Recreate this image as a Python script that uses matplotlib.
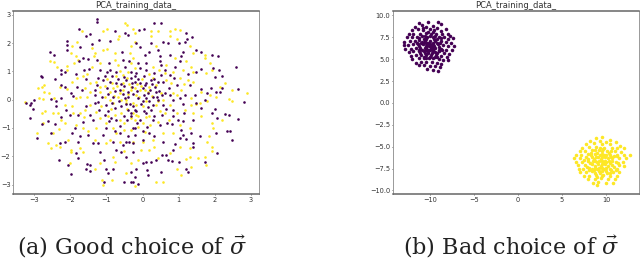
import numpy as np
import matplotlib
matplotlib.use("Agg")
import matplotlib.pyplot as plt

plt.rcParams['mathtext.fontset'] = 'dejavuserif'

good_purple = [
(-1.25,2.83),(-1.25,2.73),(-1.76,2.5),(-1.56,2.26),(-1.45,2.32),(-.75,2.41),(-.49,2.35),(-.4,2.3),(-2.08,2.06),(-2.08,1.94),
(-2.08,1.76),(-2.56,1.67),(-2.46,1.59),(-1.72,1.85),(-1.4,1.96),(-1.19,2.09),(-.9,2.06),(-.58,1.68),(-1.76,1.38),(-1.65,1.47),
(-1.52,1.43),(-1.26,1.41),(-.54,1.41),(-.37,1.38),(-2.26,1.05),(-2.24,.91),(-2.13,.96),(-2.81,.84),(-2.79,.79),(-2.43,.72),
(-1.85,.91),(-1.63,1.05),(-1.17,1.05),(-.99,.99),(-.9,1.05),(-.72,.99),(-1.22,.76),(-1.08,.7),(-.9,.64),(-.72,.58),
(-.45,.7),(-.31,.76),(-2.26,.52),(-2.13,.44),(-1.99,.22),(-1.81,.46),(-1.67,.34),(-1.26,.52),(-.99,.4),(-.63,.34),
(-.4,.28),(-3.22,-.13),(-3.08,-.13),(-2.99,-.01),(-2.54,.01),(-2.26,.05),(-1.31,.17),(-1.13,.11),(-.81,.11),(-.49,.05),
(-1.22,-.07),(.33,2.69),(.52,2.69),(-.1,2.45),(.03,2.5),(1.21,2.35),(1.37,2.21),(1.23,2.14),(1.17,2.02),(1.01,2.0),
(.7,2.0),(.24,2.0),(-.18,2.0),(-.08,1.86),(.56,2.02),(1.12,1.7),(1.49,1.76),(1.63,1.7),(1.91,1.59),(2.09,1.53),
(1.07,1.53),(1.03,1.35),(.75,1.59),(.43,1.76),(.19,1.67),(.06,1.59),(.47,1.53),(-.13,1.29),(.1,1.29),(.47,1.35),
(.52,1.23),(.61,1.05),(.1,1.05),(-.19,.93),(-.31,.96),(2.58,1.17),(1.63,1.08),(1.49,.99),(1.95,1.11),(2.12,1.05),
(2.0,.79),(2.21,.84),(.89,1.17),(.75,.88),(.52,.88),(.33,.72),(.24,.7),(.06,.52),(-.08,.58),(-.22,.64),
(.56,.64),(.94,.52),(1.31,.52),(1.63,.37),(1.89,.4),(2.19,.4),(2.14,.28),(2.03,.28),(2.63,.37),(2.81,-.08),
(1.77,.22),(1.44,.17),(.61,.22),(.75,.17),(.43,-.01),(.29,.11),(.1,.05),(-.13,.05),(.84,-.01),(1.03,.05),
(1.72,-.01),(1.17,.17),(-3.11,-.18),(-3.04,-.33),(-3.11,-.65),(-2.79,-.85),(-2.61,-.77),(-2.42,-.85),(-2.54,-1.18),(-2.93,-1.36),
(-2.38,-.24),(-2.38,-.06),(-2.12,-.36),(-2.01,-.53),(-2.29,-1.54),(-2.13,-1.51),(-1.96,-1.18),(-1.73,-1.28),(-1.78,-1.48),(-1.83,-1.89),
(-1.78,-2.07),(-2.3,-2.13),(-2.06,-2.31),(-1.99,-2.63),(-1.53,-2.27),(-1.44,-2.31),(-1.55,-2.45),(-1.46,-2.51),(-1.07,-2.13),(-1,-2.43),
(-.95,-2.58),(-.82,-2.43),(-1.07,-2.9),(-.52,-2.9),(-.27,-2.9),(-.72,-1.78),(-.59,-1.83),(-.45,-2.01),(-.27,-1.83),(-1.18,-1.83),
(-1.37,-1.54),(-1.23,-1.54),(-1.5,-1.24),(-.82,-1.48),(-.45,-1.48),(-.36,-1.48),(-.77,-1.12),(-.63,-1.18),(-.4,-1.3),(-1.37,-.71),
(-1.46,-.53),(-1.78,-.53),(-1.05,-.53),(-.95,-.41),(-.86,-.65),(-.72,-.71),(-.5,-.59),(-.31,-.47),(-1.32,-.12),(-1,-.18),
(-.77,-.3),(-.59,-.24),(-.4,-.36),(-.27,-.24),(-1.87,-1),(-1,-1),(-.27,-1.0),(0,-.06),(.19,-.06),(.56,-.18),
(1.12,-.14),(1.49,-.12),(2,-.33),(2.28,-.5),(2.4,-.53),(2.65,-.69),(2.05,-.65),(1.91,-.47),(1.63,-.3),(1.4,-.71),
(1.12,-.77),(.84,-.59),(.68,-.83),(.82,-.85),(.98,-.71),(2.33,-1.09),(2.42,-1.12),(2.46,-1.44),(2.03,-1.18),(1.58,-1.28),
(1.35,-1.18),(1.07,-1.07),(1.12,-1.24),(1.03,-1.36),(1.21,-1.4),(1.4,-1.54),(1.4,-1.66),(.56,-1.48),(.33,-1.3),(.19,-1.18),
(0,-1.12),(-.22,-1.24),(-.27,-1.54),(.55,-1.95),(.66,-1.95),(.71,-2.13),(.82,-2.17),(.83,-1.78),(2.05,-1.89),(1.72,-2.19),
(1.21,-2.43),(1.26,-2.54),(1.01,-2.19),(.38,-2.13),(.24,-2.19),(.1,-2.19),(0,-2.25),(-.18,-2.43),(.12,-2.49),(.15,-2.66),
(.52,-2.54),(-.31,-2.54),(-.33,-2.9),(-.13,-2.96),(-.22,-2.72),(.29,-.71),(.1,-.47),(.24,-.36),(.33,-.59),(.47,-.89),
(-.08,-.71),(-.22,-1.0),(-.18,-.41),(-.31,-.59),(.84,-.36),(.0,.4),(-.15,.3),(.2,.35),(.35,.45),(.05,.15),
(.15,.25),(-.25,.2),(.45,.3),(-.3,.45),(.4,.1),(.55,.15),(-.4,.1),(-.05,-.15),(.15,-.25),(-.35,-.15),
(.3,-.2),(-.2,-.35),(.05,-.4),(-.6,.55),(-.55,.2),(-.75,.3),(-.65,-.05),(-.85,-.1),(-.5,.8),(-.2,.85),
(-.45,-.15),(.1,.6),(.25,.55),(-.12,.72),(.38,.28),(-.95,.2),(-.68,.72),(-.52,.47),(-.28,.6),(-1.05,.82),
(-.85,.85),(-1.32,.33),(-1.55,.72),(-1.92,.12),(-1.55,-.22),(-1.2,-.35),(-.92,-.75),(-.62,-.92),(-.42,-.72),(-.15,-.82),
(.12,-.95),(.55,-.55),(.65,-.32),(.72,.42),(.88,.78),(1.25,.9),(1.15,-.48),(.9,-1.55),(.02,-1.42),(-.55,-1.6),
(-1.1,-1.25),(-1.65,-.8),(-2.25,-.62),(-.08,1.12),(.32,.95),(-.48,1.15),(-.92,1.28),(-1.48,1.1),(.05,.82),(.42,.62),
]
good_yellow = [
(-.49,2.71),(-.42,2.65),(-1.08,2.41),(-.97,2.5),(-1.67,2.41),(-.65,2.26),(-.67,2.14),(-1.81,2.02),(-1.95,1.88),(-1.97,1.65),
(-1.85,1.53),(-1.4,1.82),(-1.31,1.65),(-1.08,1.76),(-.97,1.79),(-.76,1.65),(-1.35,1.53),(-2.55,1.35),(-2.44,1.33),(-2.37,1.17),
(-2.08,1.2),(-2.08,1.03),(-1.9,1.29),(-1.79,1.41),(-.76,1.41),(-.67,1.23),(-.35,1.65),(-1.4,1.17),(-1.54,.91),(-1.65,.84),
(-1.81,.76),(-1.95,.64),(-2.72,.52),(-2.79,.44),(-2.9,.4),(-2.72,.28),(-2.58,.22),(-2.46,.05),(-2.75,.01),(-2.86,.05),
(-2.27,.44),(-2.08,.37),(-1.85,.05),(-1.72,.11),(-1.54,.11),(-1.45,.58),(-1.17,.46),(-1.04,.49),(-.81,.4),(-.72,.82),
(-.54,.88),(-.4,.99),(-1.45,.28),(-.9,.28),(-1.17,.28),(-.67,.11),(-.54,.34),(-.31,.34),(-.45,-.01),(-1.04,.11),
(-.9,-.01),(-.27,2.5),(-.22,2.35),(.24,2.41),(.24,2.24),(.43,2.41),(.75,2.41),(.89,2.5),(1.03,2.47),(.75,2.26),
(.94,2.14),(-.22,2.02),(-.31,1.88),(.38,1.88),(1.31,1.88),(1.4,1.65),(1.72,1.59),(1.72,1.47),(1.86,1.29),(1.21,1.35),
(1.35,1.17),(1.4,.99),(1.75,.93),(1.91,1.05),(.66,1.23),(.89,1.47),(-.27,1.47),(-.31,1.29),(.29,1.17),(.84,.99),
(1.03,.76),(1.4,.64),(1.26,.7),(2.28,.58),(2.14,.44),(2.46,.34),(2.88,.25),(2.4,.01),(2.46,-.04),(2.03,.11),
(1.86,.17),(1.63,.28),(1.35,.05),(1.58,-.13),(.8,.58),(.66,.7),(.38,.52),(-.08,.34),(-.22,.4),(.06,.34),
(.15,.28),(-.18,.17),(-.31,.46),(.52,.22),(1.07,.34),(.94,.17),(.56,-.01),(-3.25,-.09),(-2.79,-.47),(-2.7,-.41),
(-2.47,-.47),(-2.34,-.47),(-2.75,-.83),(-2.25,-.71),(-2.93,-1.16),(-2.47,-1.18),(-2.61,-1.54),(-2.52,-1.72),(-2.38,-1.6),(-2.28,-1.66),
(-2.06,-1.42),(-1.99,-1.78),(-1.99,-1.83),(-1.64,-1.83),(-1.73,-1.72),(-2.15,-.18),(-1.96,-.24),(-1.92,-.47),(-1.73,-.47),(-1.6,-.36),
(-2.15,-.83),(-1.83,-.89),(-1.64,-1),(-1.5,-1.12),(-1.28,-1),(-2.01,-2.25),(-1.18,-2.25),(-1.32,-2.43),(-1.12,-2.84),(-1.09,-3.02),
(-.83,-2.84),(-.47,-2.6),(-.82,-2.01),(-.77,-2.19),(-1,-1.54),(-.91,-1.42),(-.63,-1.48),(-.72,-1.18),(-.82,-1),(-.5,-1.07),
(-.31,-1.07),(-1.18,-.65),(-1,-.83),(-.63,-.71),(-.5,-.83),(-1.46,-.18),(-1.14,-.24),(-.82,-.12),(-.59,-.47),(-.31,-.65),
(-.45,-.12),(1.77,-.06),(1.49,-.14),(1.35,-.18),(1.91,-.83),(2.19,-.71),(1.95,-1),(1.84,-1.3),(1.77,-1.48),(1.91,-1.66),
(1.93,-1.8),(1.72,-2.01),(1.75,-2.31),(1.54,-2.07),(1.3,-2.01),(1.19,-2.11),(1.03,-1.66),(1.3,-1.72),(.94,-2.43),(1.07,-2.66),
(1.35,-2.37),(.57,-2.9),(.36,-2.9),(-.2,-3.05),(-.31,-2.25),(-.13,-2.13),(.19,-1.78),(-.04,-1.78),(-.27,-1.48),(.33,-1.66),
(.75,-1.87),(.43,-2.07),(.56,-1.18),(.29,-1.42),(0,-1.48),(.84,-1.18),(1.31,-1.0),(1.63,-.59),(1.4,-.47),(1.17,-.36),
(.94,-.47),(.61,-.47),(.47,-.41),(.19,-.59),(-.13,-.59),(-.27,-.47),(0,-.83),(-.13,-.95),(-.18,-.18),(0,-.24),
(.38,-.18),(.75,-.18),(-.1,.1),(.1,-.05),(-.4,.2),(.25,.12),(-.25,-.1),(-.7,.5),(-.55,.6),(-.85,.6),
(-.38,.55),(-.15,.55),(-.6,-.02),(-.75,-.55),(-.42,-.32),(-.05,.48),(.18,.45),(-.98,.72),(-1.28,.62),(-1.6,.42),
(-1.28,-.42),(-1.62,-.62),(-.95,-.58),(-.22,-.72),(.22,-.88),(.72,-.72),(1.05,-.88),(.62,.95),(.18,.92),(-.22,1.12),
(-.62,1.02),(-1.18,1.28),(1.12,1.05),(.45,1.05),(-2.32,-1.05),(-1.32,-1.42),(-.52,-1.82),(.08,-1.15),(.42,-.78),(.85,.25),
(1.15,.55),(-.02,.72),(.28,.75),(-.42,.75),(-.62,.22),(-.78,.12),(-.18,-.55),(.1,-.62),(.42,-.05),(-.88,-.32),
]
bad_purple = [
(-10.2,9.3),(-11.3,9.1),(-9.1,9.2),(-8.7,9.0),(-10.9,8.9),(-9.7,8.8),(-11.7,8.7),(-10.4,8.7),(-8.2,8.4),(-9.2,8.6),
(-12.0,8.3),(-11.4,8.4),(-10.8,8.3),(-10.0,8.4),(-9.5,8.3),(-8.8,8.2),(-12.4,7.9),(-11.9,7.9),(-11.1,7.9),(-10.5,8.0),
(-9.9,7.9),(-9.3,7.9),(-8.6,7.9),(-8.0,7.9),(-7.7,7.7),(-12.6,7.5),(-12.0,7.5),(-11.5,7.5),(-10.9,7.6),(-10.3,7.5),
(-9.7,7.5),(-9.0,7.5),(-8.4,7.5),(-7.9,7.3),(-7.4,7.4),(-12.9,7.0),(-12.3,7.1),(-11.7,7.1),(-11.2,7.2),(-10.6,7.1),
(-10.0,7.1),(-9.4,7.1),(-8.8,7.1),(-8.2,7.0),(-7.6,6.9),(-13.0,6.6),(-12.5,6.6),(-11.9,6.7),(-11.4,6.7),(-10.8,6.7),
(-10.3,6.7),(-9.7,6.7),(-9.1,6.7),(-8.5,6.6),(-7.9,6.5),(-7.3,6.5),(-12.8,6.2),(-12.2,6.2),(-11.6,6.3),(-11.1,6.3),
(-10.5,6.3),(-9.9,6.3),(-9.4,6.3),(-8.8,6.2),(-8.2,6.1),(-7.5,6.0),(-12.4,5.8),(-11.9,5.9),(-11.3,5.9),(-10.7,5.9),
(-10.2,5.9),(-9.6,5.9),(-9.0,5.9),(-8.4,5.7),(-7.8,5.6),(-12.2,5.4),(-11.6,5.5),(-11.0,5.5),(-10.4,5.5),(-9.9,5.5),
(-9.3,5.5),(-8.7,5.4),(-8.1,5.2),(-12.0,5.0),(-11.3,5.1),(-10.7,5.1),(-10.1,5.1),(-9.6,5.1),(-9.0,5.0),(-8.5,4.9),
(-7.9,4.9),(-11.6,4.6),(-11.0,4.7),(-10.4,4.7),(-9.8,4.7),(-9.2,4.6),(-8.7,4.5),(-11.3,4.3),(-10.7,4.3),(-10.0,4.2),
(-9.4,4.2),(-8.9,4.1),(-10.3,3.9),(-9.6,3.8),(-9.1,3.6),(-10.8,8.6),(-10.2,8.1),(-9.6,8.1),(-10.7,7.3),(-9.5,7.3),
(-10.1,6.9),(-9.9,6.5),(-10.5,6.5),(-9.5,6.5),(-10.2,6.1),(-9.7,6.1),(-10.6,5.7),(-9.8,5.7),(-10.4,7.3),(-9.2,7.3),
(-11.0,6.9),(-9.0,6.4),(-8.9,6.9),(-11.2,6.5),(-10.9,6.1),(-10.0,5.3),(-9.4,5.8),(-10.0,7.7),(-10.6,7.7),(-9.4,7.7),
(-11.3,7.4),(-8.7,7.4),(-10.9,7.0),(-9.2,6.9),(-10.7,6.9),(-9.7,6.9),(-10.3,6.9),(-11.3,6.1),(-9.0,6.1),(-10.0,6.0),
(-10.4,6.1),(-8.6,6.0),(-11.1,5.7),(-9.2,5.7),(-10.2,5.7),(-10.7,5.3),(-9.4,5.3),(-10.4,5.1),(-9.2,5.2),(-11.5,6.9),
(-10.0,6.7),(-10.6,6.3),(-9.6,6.3),(-10.1,6.5),
]
bad_yellow = [
(9.6,-3.9),(8.9,-4.0),(10.5,-4.2),(8.2,-4.3),(9.3,-4.4),(10.0,-4.5),(11.1,-4.5),(7.7,-4.7),(8.6,-4.6),(9.6,-4.7),
(10.5,-4.7),(11.6,-4.9),(7.3,-5.1),(8.1,-5.0),(8.9,-5.0),(9.8,-5.1),(10.7,-5.1),(11.3,-5.2),(12.0,-5.2),(7.0,-5.5),
(7.6,-5.5),(8.4,-5.4),(9.2,-5.4),(10.1,-5.5),(11.0,-5.5),(11.7,-5.6),(6.6,-5.9),(7.2,-5.9),(8.0,-5.8),(8.7,-5.8),
(9.5,-5.8),(10.4,-5.9),(11.2,-5.9),(12.1,-5.9),(12.7,-6.0),(6.4,-6.3),(7.0,-6.3),(7.7,-6.2),(8.4,-6.2),(9.1,-6.2),
(9.9,-6.2),(10.7,-6.3),(11.5,-6.3),(12.3,-6.3),(6.6,-6.7),(7.3,-6.7),(8.0,-6.6),(8.8,-6.6),(9.5,-6.6),(10.3,-6.6),
(11.1,-6.7),(11.9,-6.7),(6.8,-7.1),(7.6,-7.1),(8.4,-7.0),(9.1,-7.0),(9.9,-7.0),(10.7,-7.1),(11.5,-7.1),(12.0,-7.2),
(6.9,-7.5),(7.4,-7.5),(8.1,-7.4),(8.8,-7.4),(9.6,-7.4),(10.4,-7.5),(11.2,-7.5),(7.0,-7.9),(7.7,-7.9),(8.4,-7.8),
(9.2,-7.8),(10.0,-7.8),(10.8,-7.9),(11.5,-7.9),(7.5,-8.3),(8.1,-8.3),(8.9,-8.2),(9.7,-8.2),(10.5,-8.3),(11.2,-8.3),
(8.0,-8.7),(8.7,-8.7),(9.4,-8.6),(10.2,-8.7),(11.0,-8.7),(8.5,-9.1),(9.1,-9.0),(10.0,-9.1),(10.8,-9.2),(9.0,-9.4),
(9.7,-5.3),(9.0,-5.7),(9.8,-5.9),(8.6,-6.4),(9.4,-6.4),(10.2,-6.3),(9.0,-6.8),(9.7,-6.8),(10.5,-6.9),(8.7,-7.2),
(9.4,-7.2),(10.2,-7.2),(9.0,-7.6),(9.8,-7.6),(10.6,-7.7),(9.3,-8.0),(10.1,-8.0),(8.2,-6.9),(8.1,-7.7),(10.9,-6.1),
(9.3,-5.2),(8.3,-5.7),(10.6,-5.5),(11.4,-6.9),(7.9,-6.4),(10.9,-7.3),(9.3,-6.0),(9.6,-6.2),(10.0,-6.0),(8.9,-6.2),
(9.2,-6.6),(9.9,-6.6),(10.0,-6.8),(9.2,-7.4),(10.0,-7.4),(8.5,-6.6),(10.7,-6.6),(8.4,-7.5),(10.6,-6.2),(9.5,-7.0),
(8.6,-7.7),(10.4,-8.0),(8.8,-8.0),(9.5,-7.8),(10.3,-5.7),(8.7,-5.4),(9.5,-5.5),(8.3,-6.0),(7.5,-6.5),(11.3,-6.1),
(7.8,-7.3),(11.1,-7.7),(9.5,-8.4),(9.0,-8.5),
]
good_xticks = [-3, -2, -1, 0, 1, 2, 3]
good_yticks = [-3, -2, -1, 0, 1, 2, 3]
bad_xticks = [-10, -5, 0, 5, 10]
bad_yticks = [-10.0, -7.5, -5.0, -2.5, 0.0, 2.5, 5.0, 7.5, 10.0]
panel_title = "PCA_training_data_"
captions = ["(a) Good choice of $\\vec{\\sigma}$", "(b) Bad choice of $\\vec{\\sigma}$"]

W, H = 640, 260
fig = plt.figure(figsize=(W/100, H/100), dpi=100)

def panel(box, p0, p1, xlim, ylim, xt, yt, yfmt, size):
    l, t, r, b = box
    ax = fig.add_axes([l/W, 1-b/H, (r-l)/W, (b-t)/H])
    a0, a1 = np.array(p0), np.array(p1)
    ax.scatter(a1[:,0], a1[:,1], s=size, c='#fde725', linewidths=0, zorder=2)
    ax.scatter(a0[:,0], a0[:,1], s=size, c='#440154', linewidths=0, zorder=3)
    ax.set_xlim(xlim); ax.set_ylim(ylim)
    ax.set_xticks(xt); ax.set_yticks(yt)
    ax.set_yticklabels([yfmt(v).replace('-', '\u2212') for v in yt])
    ax.tick_params(labelsize=4.8, length=1, width=0.5, pad=0.8, colors='#333333')
    for s in ('top', 'bottom'):
        ax.spines[s].set_linewidth(1.1); ax.spines[s].set_color('#666666')
    for s in ('left', 'right'):
        ax.spines[s].set_linewidth(0.7); ax.spines[s].set_color('#999999')
    fig.text((l+r)/2/W, 1-6/H, panel_title, ha='center', va='center', fontsize=6, color='#333333')

panel((13, 11, 259, 194), good_purple, good_yellow, (-3.58, 3.22), (-3.33, 3.13),
      good_xticks, good_yticks, lambda v: f"{v:d}", 3.5)
panel((393, 11, 639, 194), bad_purple, bad_yellow, (-14.2, 13.75), (-10.4, 10.51),
      bad_xticks, bad_yticks, lambda v: f"{v:.1f}", 6.5)

fig.text(17/W, 1-255/H, captions[0], ha='left', va='baseline', fontsize=16, family='DejaVu Serif', color='#222222')
fig.text(403/W, 1-255/H, captions[1], ha='left', va='baseline', fontsize=16, family='DejaVu Serif', color='#222222')
fig.savefig("out.png", dpi=100)
